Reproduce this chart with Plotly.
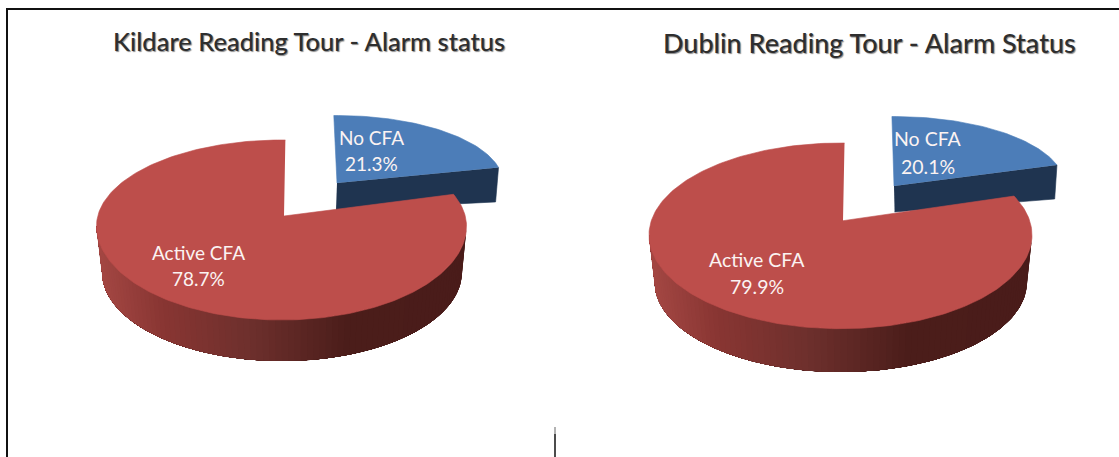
import numpy as np
import plotly.graph_objects as go

# ---- data ----
titles = ["Kildare Reading Tour - Alarm status", "Dublin Reading Tour - Alarm Status"]
categories = ["No CFA", "Active CFA"]
kildare_values = [21.3, 78.7]
dublin_values = [20.1, 79.9]

# ---- page geometry of each drawn pie (pixel axes), separate from the data ----
kildare_geo = dict(
    title_xy=(309, 41), title_fs=25.5,
    red=dict(cx=281.5, cy=226, rx=185, ry_back=86, ry_front=94, apex=(284, 216),
             b_cx=282, b_cy=272, b_rx=180, b_ry=89, rot=-8.3, end=1.2),
    blue=dict(cx=337, cy=183, rx=166, ry=67.5, b_cx=336, b_cy=210, b_rx=164, b_ry=35, start=-1.1),
    label_no=(371, 137, 163), label_active=(198, 252, 278), fs=19,
)
dublin_geo = dict(
    title_xy=(869, 42), title_fs=27,
    red=dict(cx=840.5, cy=235, rx=191.5, ry_back=92, ry_front=93.7, apex=(843, 220.7),
             b_cx=840.8, b_cy=282, b_rx=186.2, b_ry=90, rot=-7.4, end=1.2),
    blue=dict(cx=894, cy=186, rx=171, ry=69.5, b_cx=894.6, b_cy=212, b_rx=168, b_ry=43, start=-0.7),
    label_no=(927.5, 138, 166), label_active=(756.5, 259, 286), fs=19.5,
)

BLUE = "#4c7db8"
NAVY = "#1f3450"
RED = "#bd4e4b"
# gradient of the rim, left to right
RIM_X = [0.0, 0.18, 0.42, 0.68, 1.0]
RIM_C = [(165, 72, 68), (137, 54, 51), (110, 48, 45), (76, 30, 27), (74, 28, 26)]

fig = go.Figure()


def poly(x, y, color, name, hover=None, width=0.6):
    fig.add_trace(go.Scatter(
        x=x, y=y, mode="lines", fill="toself", fillcolor=color,
        line=dict(color=color, width=width), name=name, showlegend=False,
        hoverinfo="text" if hover else "skip", text=hover,
    ))


def ell(g, phi):
    """Point on the top rim of the red slice for angle phi (degrees clockwise from top)."""
    r = np.radians(phi)
    c = np.cos(r)
    ry = np.where(c >= 0, g["ry_back"], g["ry_front"])
    return g["cx"] + g["rx"] * np.sin(r), g["cy"] - ry * c


def ell_b(g, phi):
    r = np.radians(phi)
    return g["b_cx"] + g["b_rx"] * np.sin(r), g["b_cy"] - g["b_ry"] * np.cos(r)


def draw_pie(values, geo):
    no_share, active_share = values
    theta_no = 360 * no_share / 100

    # blue slice: rim then top face
    b = geo["blue"]
    phi = np.radians(np.linspace(b["start"], theta_no, 50))
    bx = b["cx"] + b["rx"] * np.sin(phi)
    by = b["cy"] - b["ry"] * np.cos(phi)
    cx2 = b["b_cx"] + b["b_rx"] * np.sin(phi[-1])
    cy2 = b["b_cy"] - b["b_ry"] * np.cos(phi[-1])
    poly([b["cx"], bx[-1], cx2, b["b_cx"]], [b["cy"], by[-1], cy2, b["b_cy"]], NAVY, "No CFA rim")
    poly(np.r_[b["cx"], bx], np.r_[b["cy"], by], BLUE, categories[0],
         f"{categories[0]}: {no_share}%")

    # red slice: gradient rim, each band painted from the right and running
    # to the far left edge, so that the next band covers it without a seam
    g = geo["red"]
    edges = np.linspace(270, 90, 91)
    xmin, xmax = g["cx"] - g["rx"], g["cx"] + g["rx"]
    for a1 in edges[::-1][:-1]:
        arc = np.linspace(a1, 270, max(3, int(270 - a1) + 2))
        tx, ty = ell(g, arc)
        ux, uy = ell_b(g, arc)
        t = (tx[0] - 1 - xmin) / (xmax - xmin)
        col = [np.interp(t, RIM_X, [c[i] for c in RIM_C]) for i in range(3)]
        css = "rgb(%d,%d,%d)" % tuple(col)
        poly(np.r_[tx, ux[::-1]], np.r_[ty, uy[::-1]], css, "Active CFA rim", width=0)

    start = theta_no + g["rot"]
    arc = np.linspace(start, 360 + g["end"], 240)
    rx_, ry_ = ell(g, arc)
    poly(np.r_[g["apex"][0], rx_], np.r_[g["apex"][1], ry_], RED, categories[1],
         f"{categories[1]}: {active_share}%")

    # labels
    anns = []
    for (lx, y1, y2), cat, val in [(geo["label_no"], categories[0], no_share),
                                   (geo["label_active"], categories[1], active_share)]:
        for y, t in [(y1, cat), (y2, f"{val}%")]:
            anns.append(dict(x=lx, y=y, text=t, showarrow=False, xref="x", yref="y",
                             font=dict(family="Lato, Open Sans, sans-serif", size=geo["fs"], color="#fbf3f2")))
    return anns


annotations = []
for title, values, geo in zip(titles, [kildare_values, dublin_values], [kildare_geo, dublin_geo]):
    annotations += draw_pie(values, geo)
    annotations.append(dict(
        x=geo["title_xy"][0], y=geo["title_xy"][1], text=title, showarrow=False, xref="x", yref="y",
        font=dict(family="Lato, Open Sans, sans-serif", size=geo["title_fs"], color="#2e2e2e",
                  shadow="1px 1px 1px #8a8a8a", weight=500),
    ))

frame = dict(color="#111111", width=2)
shapes = [
    dict(type="line", xref="x", yref="y", x0=7, x1=7, y0=8, y1=457, line=frame),
    dict(type="line", xref="x", yref="y", x0=6, x1=1119, y0=9, y1=9, line=frame),
    dict(type="line", xref="x", yref="y", x0=555, x1=555, y0=427, y1=434, line=dict(color="#666666", width=1)),
    dict(type="line", xref="x", yref="y", x0=555, x1=555, y0=434, y1=457, line=dict(color="#111111", width=1.5)),
]

fig.update_layout(
    width=1119, height=457, margin=dict(l=0, r=0, t=0, b=0),
    paper_bgcolor="white", plot_bgcolor="white", showlegend=False,
    xaxis=dict(range=[0, 1119], visible=False, fixedrange=True),
    yaxis=dict(range=[457, 0], visible=False, fixedrange=True),
    annotations=annotations, shapes=shapes,
)

fig.write_html("out.html", config=dict(displayModeBar=False),
               post_script="document.body.style.margin='0';document.body.style.overflow='hidden';")
